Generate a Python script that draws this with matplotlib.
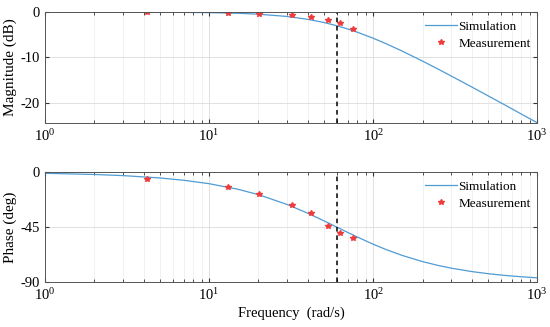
import numpy as np
import matplotlib.pyplot as plt

# simulated response
freq_sim = [1, 2, 3, 5, 7, 10, 15, 20, 30, 40, 50, 60, 70, 80, 100, 120, 150,
            200, 250, 300, 400, 500, 600, 700, 800, 1000]
mag_sim = [0.0, -0.01, -0.01, -0.03, -0.06, -0.12, -0.26, -0.46, -0.97, -1.60,
           -2.29, -3.01, -3.73, -4.44, -5.77, -6.99, -8.60, -10.83, -12.64,
           -14.15, -16.57, -18.48, -20.04, -21.37, -22.54, -24.45]
phase_sim = [-0.95, -1.91, -2.86, -4.76, -6.65, -9.46, -14.04, -18.43, -26.57,
             -33.69, -39.81, -45.0, -49.40, -53.13, -59.04, -63.43, -68.20,
             -73.30, -76.50, -78.69, -81.47, -83.16, -84.29, -85.10, -85.71,
             -86.57]

# measured points
freq_meas = [4.2, 13.1, 20.1, 32.1, 41.7, 53.4, 62.9, 75.2]
mag_meas = [0.0, -0.1, -0.37, -0.66, -1.1, -1.76, -2.4, -3.7]
phase_meas = [-5.5, -12.5, -17.7, -27.0, -33.3, -44.2, -49.6, -53.7]

cutoff = 60.5

plt.rcParams['font.family'] = ['Liberation Serif', 'DejaVu Serif']
plt.rcParams['font.size'] = 10
plt.rcParams['mathtext.fontset'] = 'stix'
plt.rcParams['axes.unicode_minus'] = False

line_col = '#4f9bd4'
meas_col = '#ee3b3b'

fig = plt.figure(figsize=(5.5, 3.27), dpi=100)
ax1 = fig.add_axes([0.0818, 0.624, 0.895, 0.339])
ax2 = fig.add_axes([0.0818, 0.1376, 0.895, 0.336])

for ax, sim, meas in [(ax1, mag_sim, mag_meas), (ax2, phase_sim, phase_meas)]:
    ax.semilogx(freq_sim, sim, color=line_col, lw=0.9, label='Simulation')
    ax.plot(freq_meas, meas, ls='none', marker='*', ms=4, color=meas_col,
            mec=meas_col, label='Measurement')
    ax.axvline(cutoff, color='black', ls='--', lw=1.1, dashes=(3, 2.5))
    ax.set_xlim(1, 1000)
    ax.grid(True, which='major', color='#dcdcdc', lw=0.6)
    ax.grid(True, which='minor', axis='x', color='#ececec', lw=0.5)
    ax.tick_params(which='both', direction='in', top=True, right=True,
                   labelsize=10.5, color='#333333')
    ax.tick_params(which='major', length=3)
    ax.tick_params(which='minor', length=2)
    for s in ax.spines.values():
        s.set_color('#555555')
        s.set_linewidth(0.7)
    ax.set_axisbelow(True)
    ax.legend(loc='upper right', frameon=False, fontsize=9.5,
              bbox_to_anchor=(1.005, 1.005), handlelength=2.4, handletextpad=0.1,
              borderaxespad=0.3, labelspacing=0.35)

ax1.set_ylim(-24.5, 0)
ax1.set_yticks([0, -10, -20])
ax1.set_ylabel('Magnitude (dB)', fontsize=11, labelpad=3)

ax2.set_ylim(-90, 0)
ax2.set_yticks([0, -45, -90])
ax2.set_ylabel('Phase (deg)', fontsize=11, labelpad=3)
ax2.set_xlabel('Frequency  (rad/s)', fontsize=10.5, labelpad=3)

fig.savefig('out.png', dpi=100)
